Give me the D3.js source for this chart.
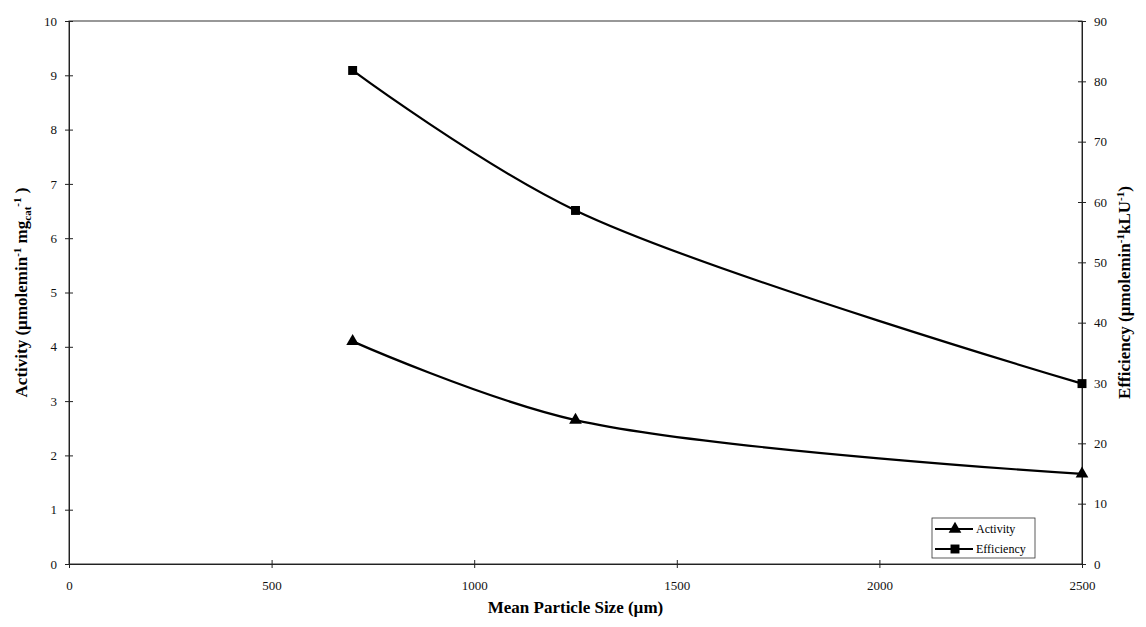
<!DOCTYPE html>
<html>
<head>
  <meta charset="UTF-8" />
  <title>Activity and efficiency vs mean particle size</title>
  <style>
    body { margin: 0; background: #fff; font-family: "Liberation Serif", "DejaVu Serif", serif; }
    .axis path, .axis line { stroke: #222; }
  </style>
</head>
<body>
<svg id="chart" width="1146" height="627"></svg>
<script src="https://d3js.org/d3.v7.min.js"></script>
<script>
  // particle sizes (µm)
  const sizes = [700, 1250, 2500];
  const activity = [4.1, 2.65, 1.66];
  const efficiency = [81.8, 58.6, 29.9];

  const xTicks = [0, 500, 1000, 1500, 2000, 2500];
  const yLeftTicks = [0, 1, 2, 3, 4, 5, 6, 7, 8, 9, 10];
  const yRightTicks = [0, 10, 20, 30, 40, 50, 60, 70, 80, 90];

  const svg = d3.select("#chart");
  const margin = { top: 21, right: 64, bottom: 63, left: 69 },
    width = 1146 - margin.left - margin.right,
    height = 627 - margin.top - margin.bottom;

  const x = d3.scaleLinear().domain([0, 2500]).range([0, width]);
  const yL = d3.scaleLinear().domain([0, 10]).range([height, 0]);
  const yR = d3.scaleLinear().domain([0, 90]).range([height, 0]);

  const g = svg.append("g").attr("transform", `translate(${margin.left},${margin.top})`);

  // frame
  g.append("rect")
    .attr("width", width).attr("height", height)
    .attr("fill", "none").attr("stroke", "#333").attr("stroke-width", 1);

  // axes with crossing tick marks
  const xa = g.append("g").attr("class", "axis")
    .attr("transform", `translate(0,${height})`)
    .call(d3.axisBottom(x).tickValues(xTicks).tickFormat(d3.format("d"))
      .tickSizeInner(4).tickSizeOuter(0).tickPadding(13));
  xa.selectAll(".tick line").attr("y1", -4);

  const yla = g.append("g").attr("class", "axis")
    .call(d3.axisLeft(yL).tickValues(yLeftTicks).tickSizeInner(4).tickSizeOuter(0).tickPadding(8));
  yla.selectAll(".tick line").attr("x1", 4);

  const yra = g.append("g").attr("class", "axis")
    .attr("transform", `translate(${width},0)`)
    .call(d3.axisRight(yR).tickValues(yRightTicks).tickSizeInner(4).tickSizeOuter(0).tickPadding(8));
  yra.selectAll(".tick line").attr("x1", -4);

  g.selectAll(".tick text")
    .style("font-family", "'Liberation Serif', 'DejaVu Serif', serif")
    .style("font-size", "13px")
    .style("fill", "#111");

  // lines (smoothed like the original)
  const lineA = d3.line().x((d, i) => x(sizes[i])).y(d => yL(d)).curve(d3.curveCatmullRom.alpha(0.5));
  const lineE = d3.line().x((d, i) => x(sizes[i])).y(d => yR(d)).curve(d3.curveCatmullRom.alpha(0.5));

  g.append("path").datum(activity).attr("d", lineA)
    .attr("fill", "none").attr("stroke", "#000").attr("stroke-width", 2.2);
  g.append("path").datum(efficiency).attr("d", lineE)
    .attr("fill", "none").attr("stroke", "#000").attr("stroke-width", 2.2);

  const tri = d3.symbol().type(d3.symbolTriangle).size(70);
  const sq = d3.symbol().type(d3.symbolSquare).size(80);

  g.selectAll(".tri").data(activity).enter().append("path")
    .attr("transform", (d, i) => `translate(${x(sizes[i])},${yL(d)})`)
    .attr("d", tri).attr("fill", "#000");
  g.selectAll(".sq").data(efficiency).enter().append("path")
    .attr("transform", (d, i) => `translate(${x(sizes[i])},${yR(d)})`)
    .attr("d", sq).attr("fill", "#000");

  // legend
  const lg = svg.append("g").attr("transform", "translate(932,518)");
  lg.append("rect").attr("width", 103).attr("height", 40)
    .attr("fill", "#fff").attr("stroke", "#333").attr("stroke-width", 0.8);
  const items = [["Activity", tri], ["Efficiency", sq]];
  items.forEach(([name, sym], i) => {
    const yy = 11 + i * 20;
    lg.append("line").attr("x1", 3).attr("x2", 41).attr("y1", yy).attr("y2", yy)
      .attr("stroke", "#000").attr("stroke-width", 2);
    lg.append("path").attr("d", sym).attr("transform", `translate(23,${yy})`).attr("fill", "#000");
    lg.append("text").attr("x", 44).attr("y", yy + 4)
      .attr("font-size", 12).text(name);
  });

  // axis titles
  svg.append("text")
    .attr("x", margin.left + width / 2).attr("y", 613)
    .attr("text-anchor", "middle").attr("font-size", 17).attr("font-weight", "bold")
    .text("Mean Particle Size (µm)");

  const lt = svg.append("text")
    .attr("transform", `translate(27,${margin.top + height / 2}) rotate(-90)`)
    .attr("text-anchor", "middle").attr("font-size", 17).attr("font-weight", "bold");
  lt.append("tspan").text("Activity (µmolemin");
  lt.append("tspan").attr("dy", -6).attr("font-size", 11).text("-1");
  lt.append("tspan").attr("dy", 6).text(" mg");
  lt.append("tspan").attr("dy", 4).attr("font-size", 11).text("cat");
  lt.append("tspan").attr("dy", -10).attr("font-size", 11).text("-1");
  lt.append("tspan").attr("dy", 6).text(" )");

  const rt = svg.append("text")
    .attr("transform", `translate(1130,${margin.top + height / 2}) rotate(-90)`)
    .attr("text-anchor", "middle").attr("font-size", 17).attr("font-weight", "bold");
  rt.append("tspan").text("Efficiency (µmolemin");
  rt.append("tspan").attr("dy", -6).attr("font-size", 11).text("-1");
  rt.append("tspan").attr("dy", 6).text("kLU");
  rt.append("tspan").attr("dy", -6).attr("font-size", 11).text("-1");
  rt.append("tspan").attr("dy", 6).text(")");
</script>
</body>
</html>
